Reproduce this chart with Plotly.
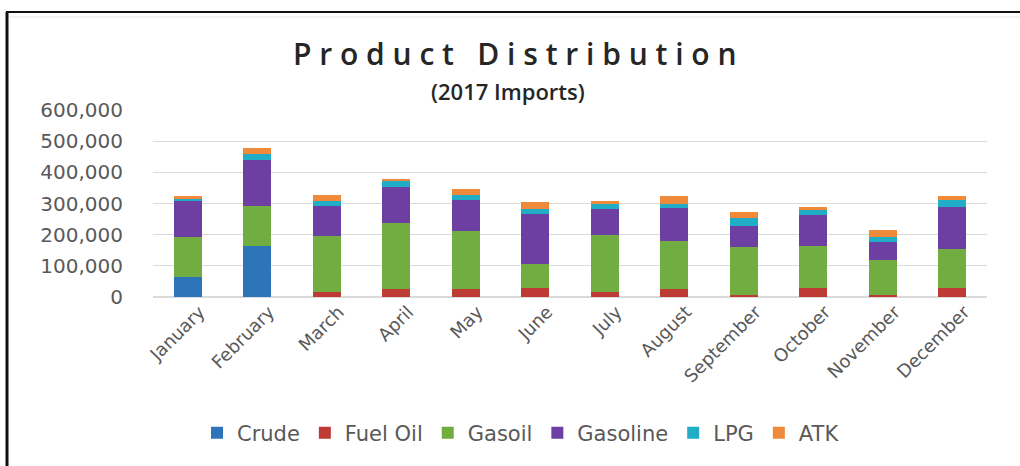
import plotly.graph_objects as go

# Monthly import volumes by product, 2017
months = ["January", "February", "March", "April", "May", "June",
          "July", "August", "September", "October", "November", "December"]

crude = [65000, 163000, 0, 0, 0, 0, 0, 0, 0, 0, 0, 0]
fuel_oil = [0, 0, 16000, 25000, 27000, 29000, 16000, 25000, 5000, 30000, 8000, 30000]
gasoil = [128000, 130000, 179000, 214000, 185000, 78000, 184000, 154000, 154000, 133000, 110000, 125000]
gasoline = [115000, 147000, 98000, 115000, 99000, 159000, 82000, 105000, 68000, 100000, 59000, 134000]
lpg = [8000, 18000, 15000, 21000, 16000, 16000, 16000, 16000, 27000, 16000, 16000, 22000]
atk = [8000, 21000, 18000, 2000, 18000, 23000, 11000, 25000, 19000, 10000, 21000, 13000]

y_ticks = [0, 100000, 200000, 300000, 400000, 500000, 600000]

series = [
    ("Crude", crude, "#2E74B8"),
    ("Fuel Oil", fuel_oil, "#BE3A34"),
    ("Gasoil", gasoil, "#72AD42"),
    ("Gasoline", gasoline, "#6E3FA3"),
    ("LPG", lpg, "#22ADC6"),
    ("ATK", atk, "#EF8A3A"),
]

fig = go.Figure()
for name, vals, color in series:
    fig.add_trace(go.Bar(name=name, x=months, y=vals, marker=dict(color=color, line=dict(width=0))))

W, H = 1020, 466
ML, MR, MT, MB = 153, 33, 110, 169
PW, PH = W - ML - MR, H - MT - MB


def px_x(px):
    return (px - ML) / PW


def px_y(py):
    return (H - MB - py) / PH


fig.update_layout(
    width=W, height=H,
    margin=dict(l=ML, r=MR, t=MT, b=MB),
    barmode="stack",
    bargap=0.6,
    paper_bgcolor="white",
    plot_bgcolor="white",
    showlegend=True,
    legend=dict(
        orientation="h", x=px_x(521), xanchor="center",
        y=px_y(433), yanchor="middle",
        font=dict(family="DejaVu Sans", size=21, color="#595959"),
        itemwidth=30, traceorder="normal",
    ),
    xaxis=dict(
        tickangle=-45, tickfont=dict(family="DejaVu Sans", size=18, color="#595959"),
        showgrid=False, showline=False, ticks="", ticklabelshift=12,
    ),
    yaxis=dict(
        range=[0, 600000], tickvals=y_ticks, tickformat=",",
        tickfont=dict(family="DejaVu Sans", size=20, color="#595959"),
        gridcolor="#DADADA", gridwidth=1,
        zeroline=True, zerolinecolor="#DADADA", showline=False,
        ticks="", ticklabelstandoff=29,
    ),
    annotations=[
        dict(text="P r o d u c t   D i s t r i b u t i o n", xref="paper", yref="paper",
             x=px_x(515), y=px_y(54), showarrow=False, xanchor="center", yanchor="middle",
             font=dict(family="Open Sans", size=30, color="#262626", weight=600)),
        dict(text="(2017 Imports)", xref="paper", yref="paper",
             x=px_x(508), y=px_y(91), showarrow=False, xanchor="center", yanchor="middle",
             font=dict(family="Open Sans", size=22, color="#262626", weight=600)),
    ],
    shapes=[
        # outer frame: left and top rules
        dict(type="line", xref="paper", yref="paper", x0=px_x(7), x1=px_x(7),
             y0=px_y(12), y1=px_y(470), line=dict(color="#111111", width=3)),
        dict(type="line", xref="paper", yref="paper", x0=px_x(6), x1=px_x(1025),
             y0=px_y(12), y1=px_y(12), line=dict(color="#111111", width=2)),
        dict(type="line", xref="paper", yref="paper", x0=px_x(9), x1=px_x(1025),
             y0=px_y(17), y1=px_y(17), line=dict(color="#E6E6E6", width=1)),
    ],
)

fig.write_html("out.html")
